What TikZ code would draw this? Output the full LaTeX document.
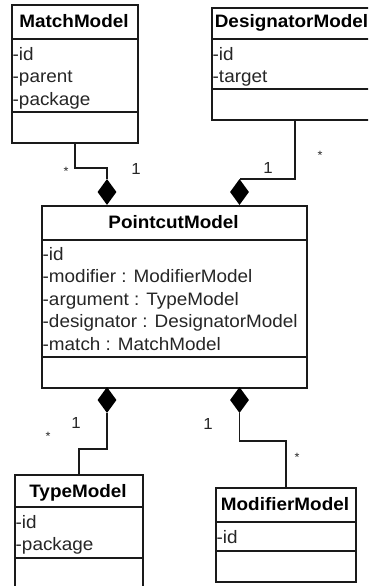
\documentclass[tikz,border=0pt]{standalone}
\usepackage{fontspec}
\setmainfont[FakeStretch=1.05]{Liberation Sans}
\usetikzlibrary{shapes.geometric}
\definecolor{ink}{HTML}{1A1A1A}
\definecolor{textgrey}{HTML}{262626}

\begin{document}
\begin{tikzpicture}[x=1pt,y=-1pt,
  classbox/.style={draw=ink, line width=1.8pt, fill=white, inner sep=0pt, anchor=north west},
  divider/.style={draw=ink, line width=1.8pt},
  title/.style={font=\fontsize{18}{20}\selectfont\bfseries, text=black, inner sep=0pt, anchor=base},
  attr/.style={font=\fontsize{18}{20}\selectfont, text=textgrey, inner sep=0pt, anchor=base west},
  link/.style={draw=ink, line width=1.6pt},
  compo/.style={diamond, fill=black, draw=none, inner sep=0pt, minimum width=19pt, minimum height=26pt},
  mult/.style={font=\fontsize{16}{18}\selectfont, text=textgrey, inner sep=0pt},
  many/.style={font=\fontsize{12}{13}\selectfont, text=textgrey, inner sep=0pt},
]
\useasboundingbox[fill=white] (0,0) rectangle (368,586);
\clip (0,0) rectangle (368,586);

% ---- MatchModel ----
\node[classbox, minimum width=126pt, minimum height=138pt] (match) at (11,4) {};
\draw[divider] (match.west |- 0,39) -- (match.east |- 0,39);
\draw[divider] (match.west |- 0,112) -- (match.east |- 0,112);
\node[title] (match-name) at (74,28) {MatchModel};
\node[attr] (match-a1) at (12.5,60) {-id};
\node[attr] (match-a2) at (12.5,82.5) {-parent};
\node[attr] (match-a3) at (12.5,105) {-package};

% ---- DesignatorModel ----
\node[classbox, minimum width=166pt, minimum height=112pt] (designator) at (211,7) {};
\draw[divider] (designator.west |- 0,39) -- (designator.east |- 0,39);
\draw[divider] (designator.west |- 0,89) -- (designator.east |- 0,89);
\node[title] (designator-name) at (291.5,28) {DesignatorModel};
\node[attr] (designator-a1) at (212.5,60) {-id};
\node[attr] (designator-a2) at (212.5,82.5) {-target};

% ---- PointcutModel ----
\node[classbox, minimum width=265pt, minimum height=182pt] (pointcut) at (41,205) {};
\draw[divider] (pointcut.west |- 0,240) -- (pointcut.east |- 0,240);
\draw[divider] (pointcut.west |- 0,357) -- (pointcut.east |- 0,357);
\node[title] (pointcut-name) at (173.5,228.5) {PointcutModel};
\node[attr] (pointcut-a1) at (42.5,260) {-id};
\node[attr] (pointcut-a2) at (42.5,282.5) {-modifier : ModifierModel};
\node[attr] (pointcut-a3) at (42.5,305) {-argument : TypeModel};
\node[attr] (pointcut-a4) at (42.5,327.5) {-designator : DesignatorModel};
\node[attr] (pointcut-a5) at (42.5,350) {-match : MatchModel};

% ---- TypeModel ----
\node[classbox, minimum width=128pt, minimum height=122pt] (type) at (14,474) {};
\draw[divider] (type.west |- 0,507) -- (type.east |- 0,507);
\draw[divider] (type.west |- 0,558) -- (type.east |- 0,558);
\node[title] (type-name) at (78,497) {TypeModel};
\node[attr] (type-a1) at (15.5,528) {-id};
\node[attr] (type-a2) at (15.5,550.5) {-package};

% ---- ModifierModel ----
\node[classbox, minimum width=140pt, minimum height=94pt] (modifier) at (215,487) {};
\draw[divider] (modifier.west |- 0,522) -- (modifier.east |- 0,522);
\draw[divider] (modifier.west |- 0,551) -- (modifier.east |- 0,551);
\node[title] (modifier-name) at (285,510) {ModifierModel};
\node[attr] (modifier-a1) at (216.5,543) {-id};

% ---- composition diamonds ----
\node[compo] (d1) at (107,192) {};
\node[compo] (d2) at (239.5,192) {};
\node[compo] (d3) at (107,400) {};
\node[compo] (d4) at (239.5,400) {};

% ---- connectors ----
\draw[link] (match.south) -- ++(0,24) -| (d1.north);
\draw[link] (designator.south) |- (d2.north);
\draw[link] (d3.south) -- ++(0,36) -| (type.north);
\draw[link] (d4.south) -- ++(0,28) -| (modifier.north);

% ---- multiplicities ----
\node[mult] (m1) at (136,169) {1};
\node[many] (s1) at (66,171) {*};
\node[mult] (m2) at (268,168) {1};
\node[many] (s2) at (320,155) {*};
\node[mult] (m3) at (76,423) {1};
\node[many] (s3) at (48,436) {*};
\node[mult] (m4) at (208,424) {1};
\node[many] (s4) at (297,457) {*};
\end{tikzpicture}
\end{document}
